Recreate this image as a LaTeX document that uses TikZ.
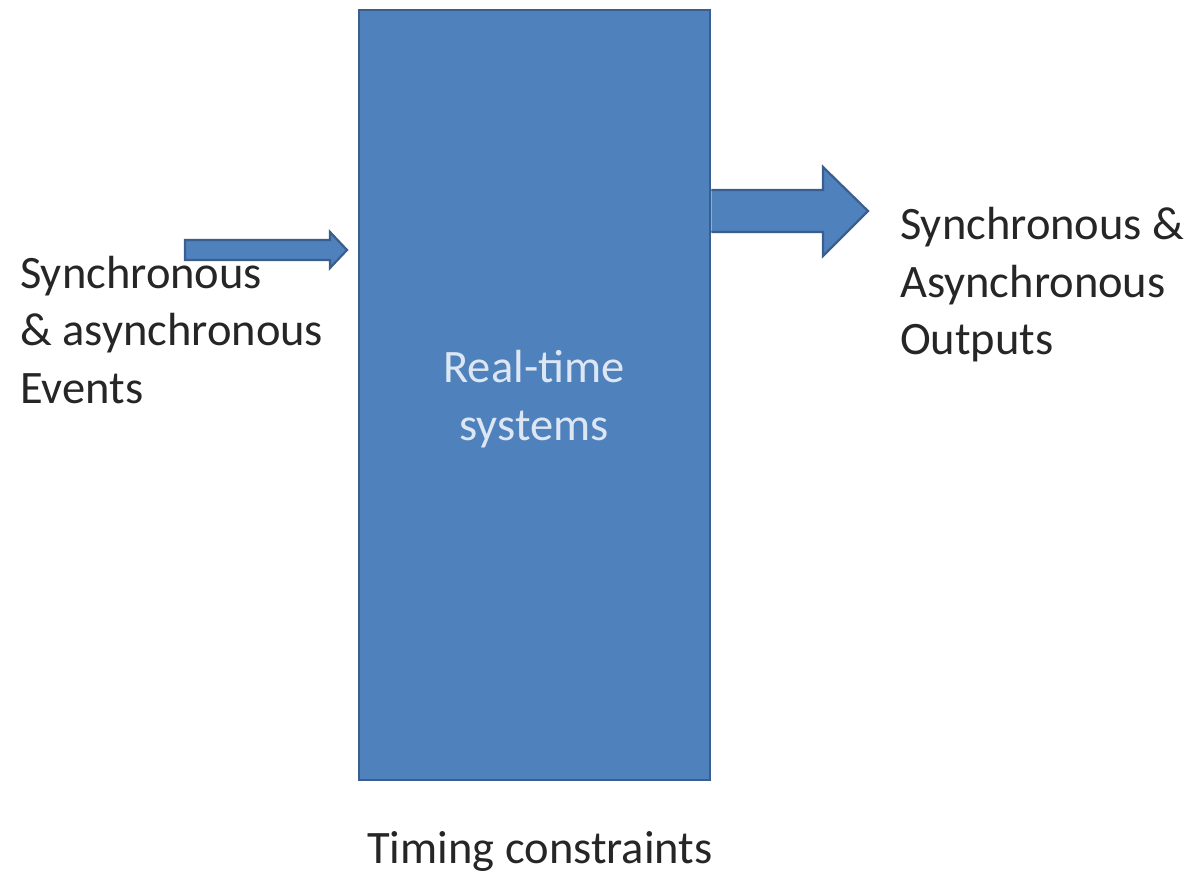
\documentclass[tikz,border=0pt]{standalone}
\usepackage{fontspec}
\setmainfont{Carlito}
\definecolor{boxfill}{HTML}{4F81BD}
\definecolor{boxline}{HTML}{3A5F8E}
\definecolor{boxtext}{HTML}{DDE7F3}
\definecolor{txt}{HTML}{262626}
\begin{document}
\begin{tikzpicture}[x=1pt,y=-1pt,
  lbl/.style={font=\fontsize{46.5}{57.5}\selectfont, text=txt, inner sep=0pt},
  arrowfill/.style={fill=boxfill, draw=boxline, line width=2.2pt, line join=miter}]
\useasboundingbox (0,0) rectangle (1194,874);
\node[draw=boxline, fill=boxfill, line width=2.5pt, minimum width=351pt, minimum height=770pt, inner sep=0pt] (sys) at (534.5,395) {};
\node[lbl, text=boxtext, align=center, anchor=base] (systxt) at (534,440) {Real-time\\systems};
\node[lbl, align=left, anchor=base west] (in) at (20,403) {Synchronous\\\& asynchronous\\Events};
\node[lbl, align=left, anchor=base west] (out) at (900,355) {Synchronous \&\\Asynchronous\\Outputs};
\node[lbl, anchor=base] (tc) at (540,863) {Timing constraints};
\coordinate (inStart) at (185,250);
% small input arrow
\draw[arrowfill] (inStart) ++(0,-10) -- (330,240) -- (330,232) -- (347,250) -- (330,268) -- (330,260) -- ++(-145,0) -- cycle;
% big output arrow
\draw[arrowfill] (sys.east |- 0,190) -- (823,190) -- (823,167) -- (868,211) -- (823,256) -- (823,232) -- (sys.east |- 0,232);
\end{tikzpicture}
\end{document}
